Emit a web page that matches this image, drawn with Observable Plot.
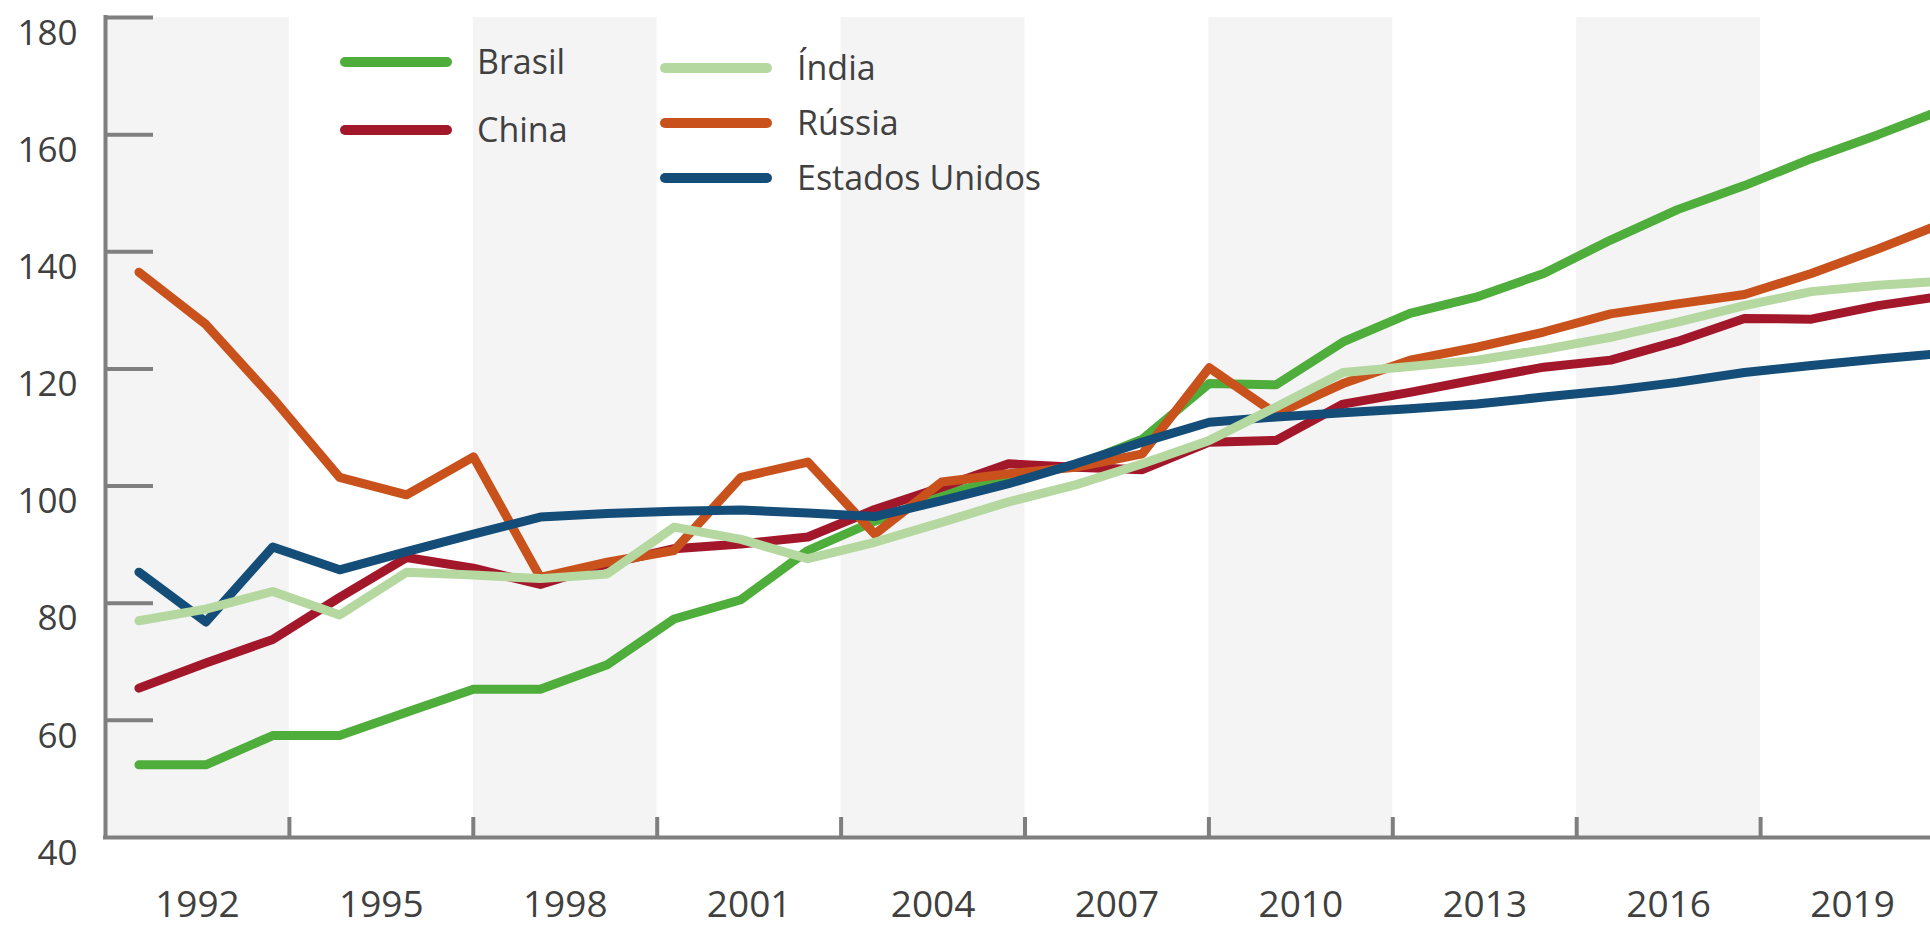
<!DOCTYPE html>
<html>
<head>
<meta charset="utf-8">
<script src="https://cdn.jsdelivr.net/npm/d3@7"></script>
<script src="https://cdn.jsdelivr.net/npm/@observablehq/plot@0.6"></script>
<style>
  html, body { margin: 0; padding: 0; background: #ffffff; overflow: hidden; }
  #chart { position: relative; width: 1930px; height: 928px; overflow: hidden; font-family: "Open Sans", sans-serif; }
  #chart > svg { position: absolute; left: 0; top: 0; max-width: none !important; }
</style>
</head>
<body>
<div id="chart"></div>
<script>
// ---- Data ----
const years = [1991, 1992, 1993, 1994, 1995, 1996, 1997, 1998, 1999, 2000,
               2001, 2002, 2003, 2004, 2005, 2006, 2007, 2008, 2009, 2010,
               2011, 2012, 2013, 2014, 2015, 2016, 2017, 2018];

const brasil = [52.4, 52.4, 57.4, 57.4, 61.4, 65.3, 65.3, 69.5, 77.3, 80.6,
                89.0, 94.0, 98.5, 101.5, 103.5, 108.0, 117.5, 117.3, 124.6, 129.5,
                132.3, 136.3, 142.0, 147.2, 151.3, 155.9, 160.0, 164.4];

const china = [65.5, 69.8, 73.8, 81.0, 87.8, 86.0, 83.2, 86.7, 89.3, 90.1,
               91.3, 96.0, 99.8, 103.8, 103.2, 102.8, 107.5, 107.8, 114.0, 116.0,
               118.2, 120.3, 121.5, 124.7, 128.6, 128.5, 130.8, 132.5];

const india = [77.0, 79.0, 82.0, 78.0, 85.3, 84.8, 84.2, 85.0, 93.0, 90.9,
               87.6, 90.4, 93.8, 97.3, 100.2, 103.8, 107.8, 113.5, 119.4, 120.4,
               121.5, 123.3, 125.4, 128.0, 130.8, 133.2, 134.3, 135.0];

const russia = [136.5, 127.6, 115.0, 101.5, 98.5, 105.0, 84.4, 87.0, 89.0, 101.5,
                104.1, 91.8, 100.7, 102.1, 103.2, 105.5, 120.2, 112.3, 117.5, 121.5,
                123.7, 126.3, 129.4, 131.1, 132.7, 136.3, 140.5, 145.0];

const usa = [85.3, 76.8, 89.6, 85.7, 88.8, 91.8, 94.7, 95.3, 95.7, 95.9,
             95.4, 94.8, 97.5, 100.4, 103.8, 107.5, 110.9, 111.8, 112.5, 113.2,
             114.0, 115.2, 116.3, 117.7, 119.4, 120.6, 121.7, 122.7];

const bandLabels = [1992, 1995, 1998, 2001, 2004, 2007, 2010, 2013, 2016, 2019];
const yTicks = [40, 60, 80, 100, 120, 140, 160, 180];

const seriesNames  = ["Brasil", "China", "Índia", "Rússia", "Estados Unidos"];
const seriesColors = ["#4fad3b", "#a3172b", "#b5d8a0", "#c9521c", "#154d79"];
const seriesValues = { "Brasil": brasil, "China": china, "Índia": india, "Rússia": russia, "Estados Unidos": usa };
const drawOrder = ["Brasil", "China", "Rússia", "Estados Unidos", "Índia"];

// ---- Layout ----
const H = 928;
const marginLeft = 105, marginTop = 17, marginBottom = 91;
const axisColor = "#7f7f7f", textColor = "#404040";
const font = "'Open Sans', sans-serif";

const bands = bandLabels.map((d, i) => ({ x1: d - 1.5, x2: d + 1.5, shade: i % 2 === 0 }));
const boundaries = bandLabels.slice(1).map(d => d - 1.5);
const xStart = bandLabels[0] - 1.5, xEnd = bandLabels[bandLabels.length - 1] + 1.5;

const chart = document.getElementById("chart");

// Background: shaded bands + axes
const bg = Plot.plot({
  width: 1944, height: H,
  marginLeft, marginRight: 0, marginTop, marginBottom,
  x: { domain: [xStart, xEnd], axis: null },
  y: { domain: [yTicks[0], yTicks[yTicks.length - 1]], axis: null },
  style: { fontFamily: font, background: "#ffffff", maxWidth: "none", overflow: "visible" },
  marks: [
    Plot.rect(bands.filter(d => d.shade), { x1: "x1", x2: "x2", fill: "#f4f4f4" }),
    Plot.axisY(yTicks.slice(1), { anchor: "left", tickSize: -48, tickFormat: () => "", stroke: axisColor, strokeWidth: 4 }),
    Plot.axisY(yTicks, { anchor: "left", tickSize: 0, tickPadding: 28, dy: 16, fontSize: 35, fill: textColor, tickFormat: d => String(d) }),
    Plot.axisX(boundaries, { anchor: "bottom", tickSize: -20, tickFormat: () => "", stroke: axisColor, strokeWidth: 4 }),
    Plot.axisX(bandLabels, { anchor: "bottom", tickSize: 0, tickPadding: 53, fontSize: 37, fill: textColor, tickFormat: d => String(d) }),
    Plot.ruleX([xStart], { stroke: axisColor, strokeWidth: 4, strokeLinecap: "square" }),
    Plot.ruleY([yTicks[0]], { stroke: axisColor, strokeWidth: 4, strokeLinecap: "square" })
  ]
});
chart.appendChild(bg);

// Lines
const lineData = drawOrder.flatMap(name => years.map((yr, i) => ({ name, year: yr, value: seriesValues[name][i] })));
const fg = Plot.plot({
  width: 1978, height: H,
  marginLeft, marginRight: 0, marginTop, marginBottom,
  x: { domain: [years[0] - 0.5, years[years.length - 1] + 0.5], axis: null },
  y: { domain: [yTicks[0], yTicks[yTicks.length - 1]], axis: null },
  color: { domain: seriesNames, range: seriesColors },
  style: { background: "transparent", maxWidth: "none", overflow: "visible" },
  marks: [
    Plot.line(lineData, { x: "year", y: "value", z: "name", stroke: "name", strokeWidth: 9, strokeLinejoin: "round", strokeLinecap: "round" })
  ]
});
chart.appendChild(fg);

// Legend (inside the plot area, as in the reference)
const legendLayout = [
  { name: "Brasil", x: 340, y: 62 },
  { name: "China", x: 340, y: 130 },
  { name: "Índia", x: 660, y: 68 },
  { name: "Rússia", x: 660, y: 123 },
  { name: "Estados Unidos", x: 660, y: 178 }
];
const leg = d3.create("svg").attr("width", 1930).attr("height", H)
  .style("position", "absolute").style("left", "0px").style("top", "0px");
const colorOf = n => seriesColors[seriesNames.indexOf(n)];
const g = leg.selectAll("g").data(legendLayout).join("g");
g.append("line")
  .attr("x1", d => d.x + 5).attr("x2", d => d.x + 107)
  .attr("y1", d => d.y).attr("y2", d => d.y)
  .attr("stroke", d => colorOf(d.name)).attr("stroke-width", 10).attr("stroke-linecap", "round");
g.append("text")
  .attr("x", d => d.x + 137).attr("y", d => d.y + 12)
  .attr("font-family", font).attr("font-size", 34).attr("fill", textColor)
  .text(d => d.name);
chart.appendChild(leg.node());
</script>
</body>
</html>
